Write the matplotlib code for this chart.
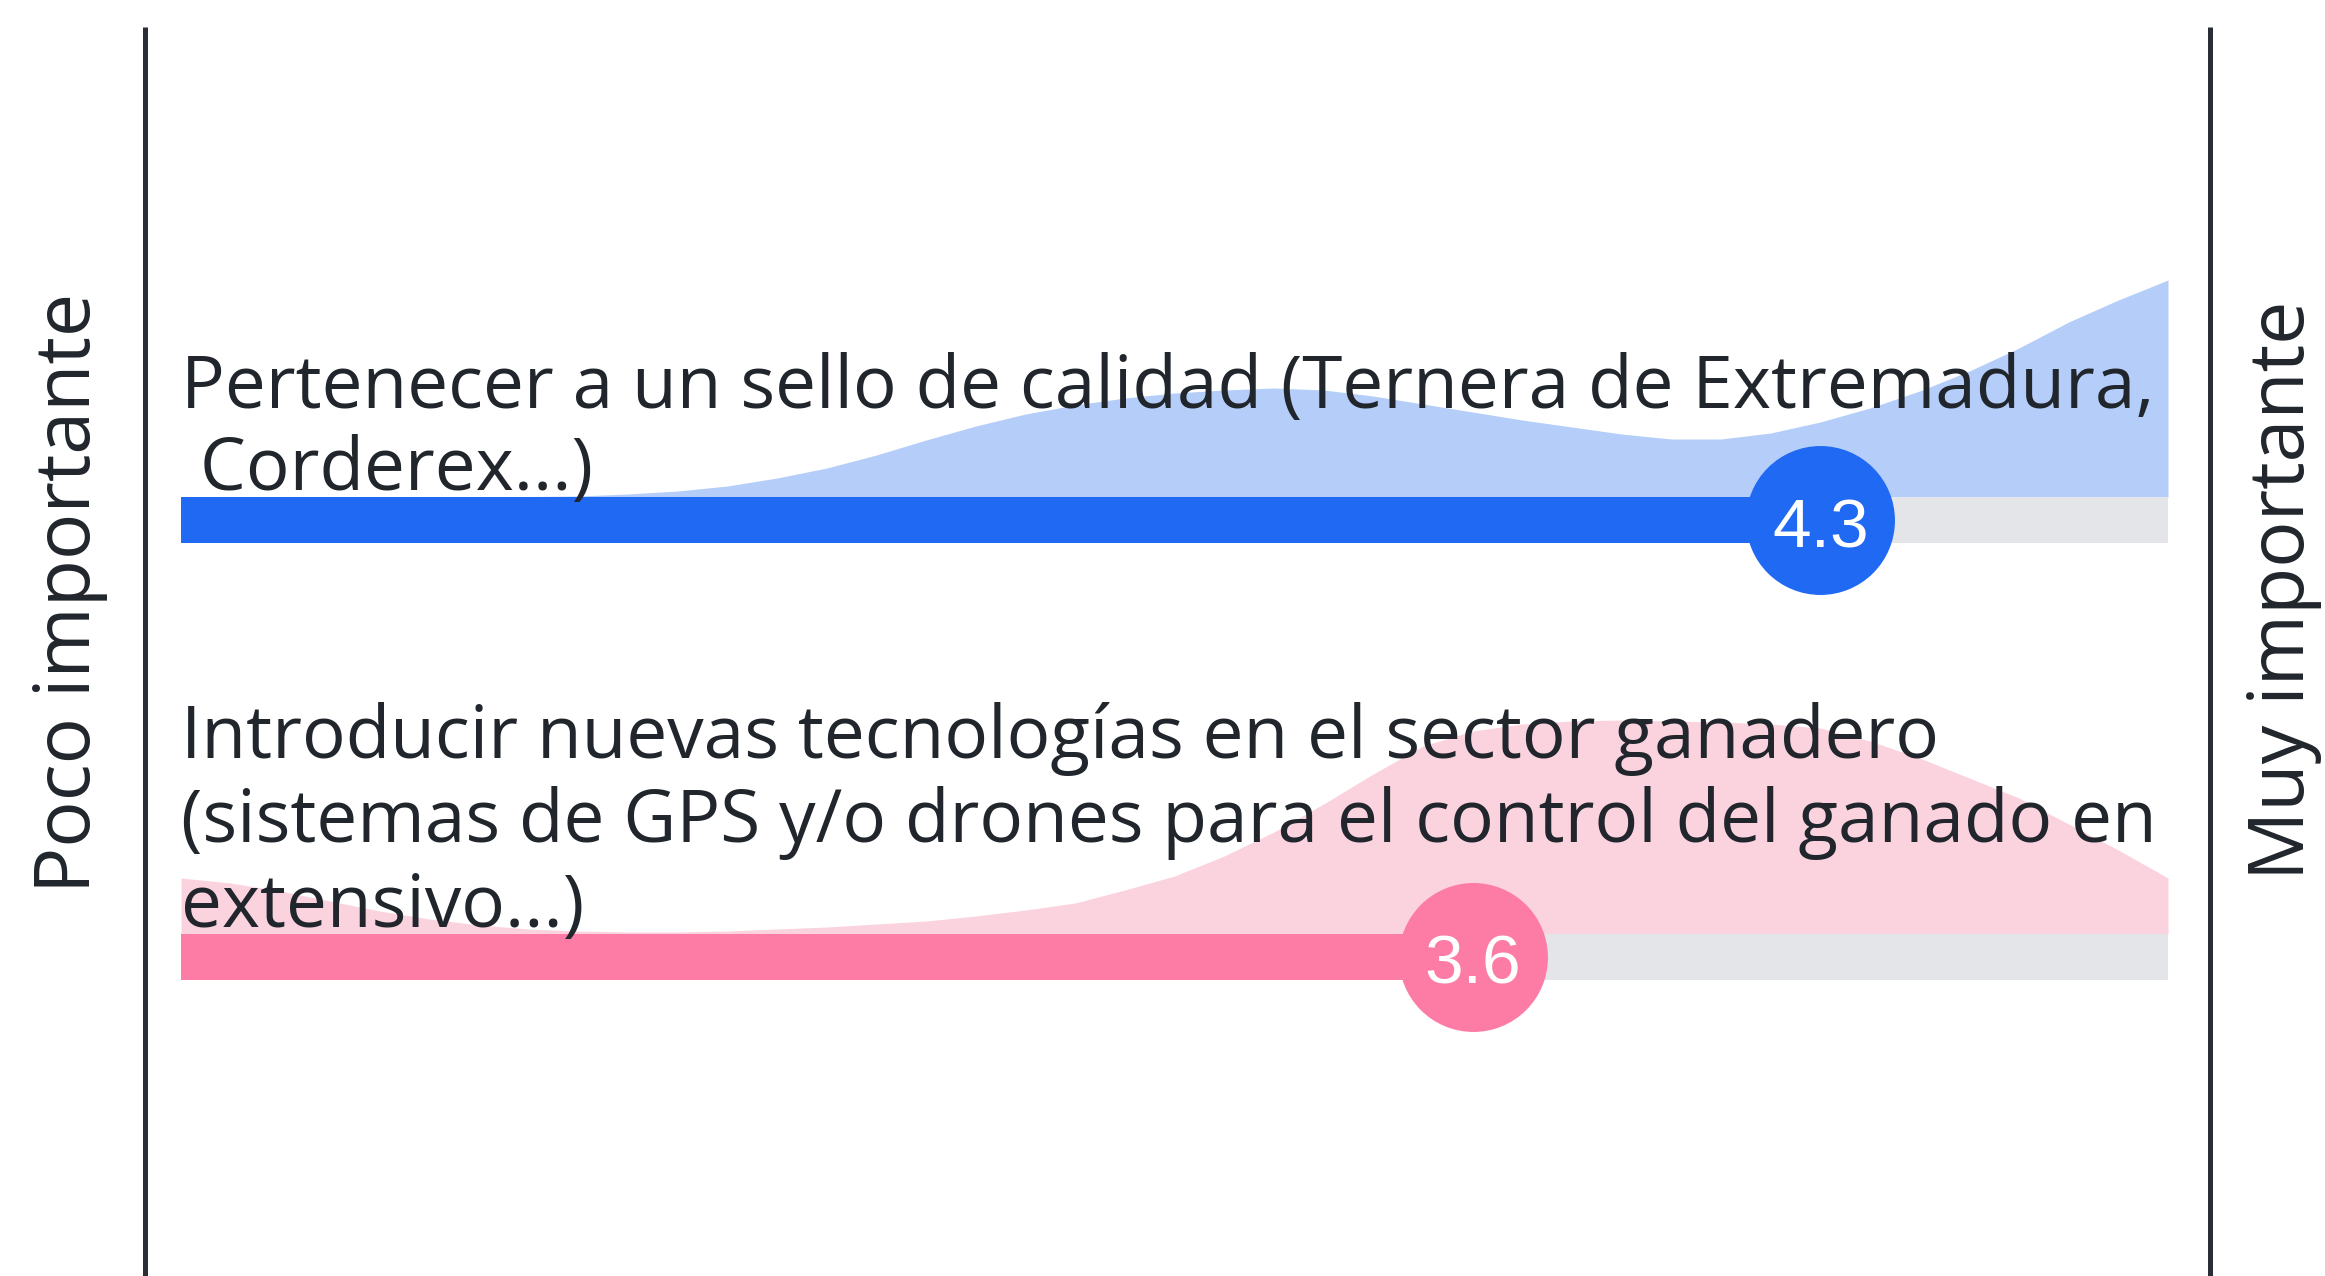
import numpy as np
import matplotlib.pyplot as plt

# scale 1 (poco importante) .. 5 (muy importante)
scale_min, scale_max = 1, 5
scale_left = 'Poco importante'
scale_right = 'Muy importante'

labels = [
    ['Pertenecer a un sello de calidad (Ternera de Extremadura,', ' Corderex...)'],
    ['Introducir nuevas tecnologías en el sector ganadero',
     '(sistemas de GPS y/o drones para el control del ganado en',
     'extensivo...)'],
]
means = [4.3, 3.6]

# distribution of answers, read at steps of 0.1 from 1 to 5
dist_x = np.linspace(1, 5, 41)
dist_sello = [0, 0, 0, 0, 0, 0, 0, 0.5, 1, 3,
              6, 11, 19, 29, 42, 57, 71, 83, 92, 99,
              104, 107, 109, 107, 101, 93, 85, 77, 70, 63,
              58, 58, 64, 75, 89, 106, 126, 149, 175, 197,
              217]
dist_tecno = [56, 51, 43, 33, 23, 15, 9, 5, 3, 2,
              2, 3, 5, 7, 10, 13, 18, 24, 31, 44,
              58, 78, 102, 130, 160, 188, 203, 210, 213, 214,
              213, 212, 210, 206, 193, 176, 156, 136, 110, 84,
              56]
dists = [dist_sello, dist_tecno]

bar_colors = ['#1F69F3', '#FD7CA5']
area_colors = ['#B4CEF9', '#FBD3DE']
grey = '#E4E5E8'
ink = '#21252C'

fig = plt.figure(figsize=(23.25, 12.76), dpi=100)
ax = fig.add_axes([0, 0, 1, 1])
px = 2168 - 181
unit = px / 4
ax.set_xlim(1 - 181 / unit, 5 + (2325 - 2168) / unit)
ax.set_ylim(1276, 0)
ax.axis('off')

row_y = [520, 957]        # bar centres (pixels from top)
bar_h = 46
text_base = [[408, 490], [758, 842, 927]]
font = ['Open Sans', 'DejaVu Sans']

for i in range(2):
    y = row_y[i]
    top = y - bar_h / 2
    ax.fill_between(dist_x, top, top - np.array(dists[i]), color=area_colors[i],
                    lw=0, zorder=1)
    ax.barh(y, scale_max - scale_min, left=scale_min, height=bar_h, color=grey,
            zorder=2)
    ax.barh(y, means[i] - scale_min, left=scale_min, height=bar_h,
            color=bar_colors[i], zorder=3)
    ax.scatter([means[i]], [y], s=11500, color=bar_colors[i], zorder=4, lw=0)
    ax.text(means[i], y + 27, f'{means[i]:.1f}', color='white', fontsize=50,
            family='Liberation Sans', ha='center', va='baseline', zorder=5)
    for line, b in zip(labels[i], text_base[i]):
        ax.text(scale_min, b, line, color=ink, fontsize=52.5, family=font,
                ha='left', va='baseline', zorder=6)

# side rules and scale ends
xl = ax.get_xlim()
for xp in (145, 2210):
    xv = xl[0] + xp / unit
    ax.plot([xv, xv], [27, 1276], color='#2A2E35', lw=3.6, zorder=6,
            solid_capstyle='butt')
ax.text(xl[0] + 70 / unit, 593, scale_left, rotation=90, color=ink,
        fontsize=55.5, family=font, ha='center', va='center')
ax.text(xl[0] + 2284 / unit, 590, scale_right, rotation=90, color=ink,
        fontsize=55.5, family=font, ha='center', va='center')

fig.savefig('out.png', dpi=100, facecolor='white')
